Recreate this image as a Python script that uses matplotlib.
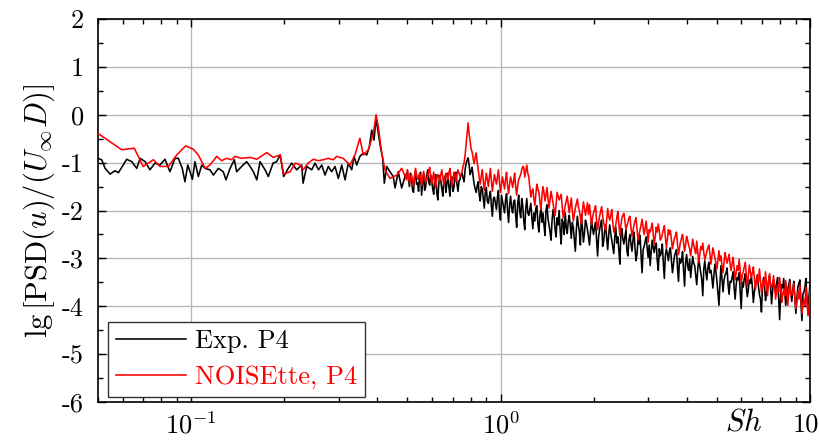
import numpy as np
import matplotlib
matplotlib.use('Agg')
import matplotlib.pyplot as plt
from matplotlib.ticker import FixedLocator, FixedFormatter, NullFormatter

plt.rcParams['mathtext.fontset'] = 'cm'
plt.rcParams['font.family'] = ['cmr10', 'DejaVu Serif']
plt.rcParams['axes.unicode_minus'] = False

# ---------------- data ----------------
# Experiment, low-frequency part
exp_low_sh = [0.0500, 0.0514, 0.0527, 0.0547, 0.0567, 0.0582, 0.0619, 0.0643, 0.0667, 0.0684,
              0.0710, 0.0736, 0.0764, 0.0793, 0.0823, 0.0854, 0.0887, 0.0909, 0.0936, 0.0955,
              0.0975, 0.0992, 0.1009, 0.1029, 0.1055, 0.1082, 0.1110, 0.1150, 0.1180, 0.1224,
              0.1270, 0.1296, 0.1336, 0.1379, 0.1403, 0.1456, 0.1512, 0.1550, 0.1589, 0.1630,
              0.1670, 0.1733, 0.1776, 0.1840, 0.1890, 0.1940, 0.1990, 0.2060, 0.2113, 0.2194,
              0.2277, 0.2300, 0.2363, 0.2453, 0.2514, 0.2580, 0.2642, 0.2708, 0.2775, 0.2846,
              0.2917, 0.2990, 0.3067, 0.3143, 0.3221, 0.3303, 0.3360, 0.3428, 0.3510, 0.3600,
              0.3694, 0.3766, 0.3833, 0.3900, 0.3960, 0.4026, 0.4098, 0.4160, 0.4210, 0.4285,
              0.4390, 0.4500, 0.4560, 0.4670, 0.4790, 0.4910]
exp_low_psd = [-0.91, -0.94, -1.12, -1.24, -1.17, -1.21, -0.93, -0.98, -1.12, -0.91,
               -0.98, -1.15, -1.01, -1.05, -0.93, -1.19, -0.91, -0.91, -1.12, -1.40,
               -1.05, -1.19, -1.35, -0.98, -1.29, -1.05, -1.12, -1.15, -1.26, -1.12,
               -1.19, -1.36, -1.12, -0.94, -1.19, -1.08, -0.98, -1.08, -1.19, -1.36,
               -0.98, -1.15, -1.29, -1.01, -0.98, -0.84, -1.29, -1.12, -1.01, -1.15,
               -1.05, -1.43, -1.08, -1.15, -1.01, -1.15, -1.05, -1.26, -1.08, -1.19,
               -1.08, -1.33, -1.05, -1.36, -1.01, -1.15, -0.87, -1.05, -0.87, -0.80,
               -0.84, -0.67, -0.32, -0.53, -0.07, -0.39, -0.70, -0.91, -1.43, -1.08,
               -1.19, -1.29, -1.53, -1.19, -1.53, -1.29]

# NOISEtte, low-frequency part
nois_low_sh = [0.0500, 0.0596, 0.0655, 0.0700, 0.0755, 0.0793, 0.0844, 0.0898, 0.0960, 0.1016,
               0.1055, 0.1110, 0.1150, 0.1210, 0.1255, 0.1300, 0.1350, 0.1386, 0.1456, 0.1550,
               0.1630, 0.1755, 0.1840, 0.1940, 0.1990, 0.2090, 0.2170, 0.2250, 0.2300, 0.2390,
               0.2480, 0.2580, 0.2670, 0.2775, 0.2880, 0.2950, 0.3100, 0.3260, 0.3385, 0.3510,
               0.3600, 0.3740, 0.3880, 0.3960, 0.4026, 0.4130, 0.4230, 0.4390, 0.4620, 0.4790,
               0.4970]
nois_low_psd = [-0.39, -0.73, -0.70, -1.08, -0.94, -1.08, -1.08, -0.84, -0.65, -0.72,
                -0.84, -1.12, -1.05, -0.87, -0.96, -0.91, -0.94, -0.87, -0.91, -0.89,
                -0.93, -0.79, -0.89, -0.84, -1.24, -1.19, -1.01, -1.05, -1.15, -1.01,
                -0.93, -0.96, -0.94, -0.91, -0.94, -0.87, -0.91, -1.05, -0.84, -0.49,
                -0.84, -0.73, -0.39, 0.00, -0.25, -0.80, -1.15, -1.33, -1.26, -1.12,
                -1.36]

# dense part of both spectra: grid A (Sh = 0.5 ... 10, 200 samples) and the
# samples lying between the grid-A samples (grid B, 199 samples)
sh_dense_a = np.geomspace(0.5, 10.0, 200)
sh_dense_b = np.sqrt(sh_dense_a[:-1] * sh_dense_a[1:])

exp_dense_a = [
    -1.20, -1.50, -1.33, -1.62, -1.18, -1.42, -1.28, -1.68, -1.25, -1.52,
    -1.15, -1.47, -1.38, -1.66, -1.25, -1.78, -1.27, -1.55, -1.36, -1.62,
    -1.22, -1.70, -1.30, -1.52, -1.20, -1.60, -1.35, -1.22, -1.40, -1.02,
    -0.90, -1.25, -1.10, -1.45, -1.62, -1.40, -1.80, -1.55, -1.95, -1.52,
    -1.85, -1.60, -2.12, -1.72, -1.98, -1.58, -2.20, -1.80, -2.05, -1.65,
    -2.25, -1.70, -2.05, -1.78, -2.35, -1.68, -2.15, -1.90, -2.40, -1.75,
    -2.10, -1.85, -2.38, -2.22, -1.90, -2.45, -1.95, -2.05, -2.52, -1.88,
    -2.30, -2.62, -1.98, -2.40, -2.15, -2.00, -2.70, -2.25, -2.05, -2.48,
    -2.10, -2.58, -2.35, -2.85, -2.12, -2.45, -2.08, -2.66, -2.20, -2.40,
    -2.72, -2.18, -2.50, -2.25, -2.95, -2.40, -2.20, -2.65, -2.30, -2.82,
    -2.30, -2.62, -2.90, -2.35, -2.55, -3.12, -2.38, -2.70, -2.42, -2.95,
    -2.50, -2.85, -2.45, -3.05, -2.62, -2.52, -3.30, -2.75, -2.55, -2.98,
    -3.15, -2.62, -2.88, -2.68, -3.25, -2.95, -2.70, -3.42, -2.80, -3.05,
    -2.78, -3.30, -2.95, -2.82, -3.48, -3.10, -2.86, -3.58, -2.92, -3.25,
    -3.40, -2.96, -3.15, -3.55, -3.00, -3.30, -3.78, -3.05, -3.45, -3.08,
    -3.25, -3.62, -3.12, -3.48, -3.98, -3.15, -3.70, -3.35, -3.20, -3.75,
    -3.50, -3.28, -3.85, -3.40, -3.30, -4.05, -3.60, -3.32, -3.80, -3.45,
    -3.35, -3.92, -3.55, -3.34, -3.75, -4.12, -3.40, -3.88, -3.62, -3.36,
    -3.95, -3.45, -3.70, -3.40, -4.28, -3.55, -3.42, -3.98, -3.65, -3.44,
    -3.90, -3.48, -4.15, -3.60, -3.45, -4.30, -3.70, -3.42, -4.05, -3.55]
exp_dense_b = [
    -1.35, -1.22, -1.55, -1.30, -1.45, -1.60, -1.20, -1.40, -1.58, -1.30,
    -1.40, -1.25, -1.55, -1.32, -1.62, -1.45, -1.38, -1.70, -1.28, -1.45,
    -1.50, -1.35, -1.60, -1.28, -1.45, -1.38, -1.25, -1.32, -1.15, -0.95,
    -1.05, -1.18, -1.30, -1.55, -1.48, -1.68, -1.50, -1.75, -1.62, -1.80,
    -1.70, -1.90, -1.75, -1.85, -1.72, -2.02, -1.68, -1.92, -1.78, -2.00,
    -1.88, -1.95, -1.82, -2.10, -1.85, -2.02, -1.75, -2.22, -1.95, -2.05,
    -1.98, -2.15, -2.05, -1.95, -2.28, -2.10, -2.25, -2.30, -2.00, -2.18,
    -2.45, -2.20, -2.12, -2.55, -2.30, -2.42, -2.18, -2.50, -2.35, -2.22,
    -2.32, -2.25, -2.60, -2.40, -2.30, -2.72, -2.35, -2.48, -2.28, -2.55,
    -2.45, -2.38, -2.35, -2.62, -2.55, -2.28, -2.75, -2.42, -2.58, -2.50,
    -2.48, -2.75, -2.55, -2.68, -2.82, -2.50, -2.60, -2.55, -2.85, -2.62,
    -2.70, -2.62, -2.78, -2.90, -2.70, -2.95, -2.82, -2.65, -2.78, -2.72,
    -2.85, -2.78, -2.72, -3.05, -2.80, -2.88, -3.10, -2.95, -2.90, -2.85,
    -3.05, -3.12, -2.88, -3.20, -3.00, -3.05, -3.25, -3.08, -3.15, -3.02,
    -3.18, -3.10, -3.35, -3.25, -3.15, -3.45, -3.22, -3.28, -3.20, -3.30,
    -3.40, -3.35, -3.28, -3.72, -3.52, -3.42, -3.45, -3.30, -3.55, -3.48,
    -3.40, -3.62, -3.55, -3.45, -3.70, -3.50, -3.42, -3.58, -3.65, -3.52,
    -3.60, -3.70, -3.45, -3.58, -3.85, -3.62, -3.55, -3.72, -3.48, -3.60,
    -3.68, -3.58, -3.52, -3.85, -3.75, -3.62, -3.70, -3.80, -3.55, -3.72,
    -3.65, -3.80, -3.85, -3.52, -3.90, -3.75, -3.60, -3.85, -3.78]

nois_dense_a = [
    -1.15, -1.42, -1.25, -1.50, -1.12, -1.35, -1.22, -1.48, -1.18, -1.40,
    -1.28, -1.10, -1.45, -1.20, -1.52, -1.25, -1.38, -1.15, -1.46, -1.22,
    -1.35, -1.12, -1.48, -1.20, -1.40, -1.15, -1.30, -1.18, -1.00, -0.62,
    -0.17, -0.55, -0.78, -1.02, -0.80, -1.15, -1.45, -1.15, -1.58, -1.22,
    -1.50, -1.12, -1.60, -1.25, -1.45, -1.15, -1.62, -1.30, -1.55, -1.20,
    -1.65, -1.30, -1.52, -1.22, -1.68, -1.35, -1.25, -1.08, -1.30, -1.05,
    -1.30, -1.72, -1.55, -1.90, -1.45, -1.62, -1.98, -1.50, -1.80, -1.52,
    -1.95, -1.60, -1.85, -2.10, -1.62, -1.78, -1.66, -2.15, -1.90, -1.70,
    -2.05, -1.74, -2.22, -1.95, -1.76, -2.00, -2.28, -1.82, -2.10, -1.84,
    -1.88, -2.30, -2.05, -1.90, -2.40, -2.12, -1.92, -2.25, -2.42, -1.96,
    -2.20, -1.98, -2.45, -2.30, -2.02, -2.52, -2.15, -2.06, -2.40, -2.25,
    -2.12, -2.55, -2.30, -2.15, -2.62, -2.40, -2.18, -2.50, -2.22, -2.66,
    -2.45, -2.26, -2.70, -2.35, -2.28, -2.62, -2.50, -2.32, -2.78, -2.40,
    -2.42, -2.80, -2.58, -2.45, -2.92, -2.65, -2.50, -2.85, -2.54, -2.72,
    -2.95, -2.60, -2.82, -2.64, -3.08, -2.75, -2.68, -3.02, -2.85, -2.72,
    -3.12, -2.78, -2.98, -3.22, -2.84, -2.95, -3.30, -2.88, -3.10, -2.92,
    -3.25, -2.98, -3.45, -3.15, -3.02, -3.52, -3.28, -3.08, -3.58, -3.14,
    -3.40, -3.18, -3.65, -3.35, -3.22, -3.72, -3.45, -3.28, -3.78, -3.32,
    -3.60, -3.36, -3.85, -3.55, -3.40, -3.92, -3.65, -3.46, -3.98, -3.50,
    -3.75, -3.52, -4.05, -3.70, -3.56, -4.15, -3.85, -3.60, -4.20, -3.68]
nois_dense_b = [
    -1.30, -1.35, -1.38, -1.28, -1.25, -1.30, -1.36, -1.32, -1.28, -1.35,
    -1.18, -1.30, -1.32, -1.38, -1.35, -1.30, -1.25, -1.32, -1.34, -1.28,
    -1.22, -1.32, -1.35, -1.28, -1.25, -1.22, -1.25, -1.08, -0.85, -0.38,
    -0.40, -0.72, -0.92, -0.88, -1.00, -1.32, -1.28, -1.38, -1.40, -1.35,
    -1.30, -1.38, -1.42, -1.35, -1.30, -1.40, -1.45, -1.42, -1.35, -1.48,
    -1.45, -1.40, -1.38, -1.50, -1.48, -1.30, -1.15, -1.10, -1.18, -1.22,
    -1.52, -1.60, -1.75, -1.65, -1.55, -1.82, -1.70, -1.62, -1.68, -1.75,
    -1.78, -1.72, -2.00, -1.85, -1.70, -1.72, -1.92, -2.02, -1.80, -1.88,
    -1.90, -2.00, -2.08, -1.85, -1.92, -2.15, -2.02, -1.95, -1.98, -2.08,
    -2.10, -2.15, -1.98, -2.20, -2.25, -2.02, -2.10, -2.35, -2.18, -2.12,
    -2.10, -2.25, -2.38, -2.15, -2.28, -2.32, -2.10, -2.22, -2.32, -2.15,
    -2.35, -2.42, -2.22, -2.40, -2.50, -2.30, -2.35, -2.38, -2.45, -2.40,
    -2.35, -2.50, -2.55, -2.45, -2.42, -2.58, -2.40, -2.55, -2.60, -2.50,
    -2.62, -2.68, -2.52, -2.70, -2.78, -2.58, -2.68, -2.72, -2.62, -2.80,
    -2.78, -2.72, -2.90, -2.85, -2.92, -2.82, -2.88, -2.95, -2.78, -2.90,
    -2.95, -2.88, -3.10, -3.02, -3.05, -3.15, -3.08, -3.00, -3.02, -3.12,
    -3.10, -3.22, -3.30, -3.25, -3.28, -3.35, -3.18, -3.32, -3.38, -3.28,
    -3.30, -3.42, -3.48, -3.50, -3.45, -3.55, -3.58, -3.52, -3.50, -3.55,
    -3.52, -3.60, -3.68, -3.70, -3.62, -3.75, -3.78, -3.70, -3.72, -3.78,
    -3.70, -3.82, -3.90, -3.85, -3.88, -3.95, -3.98, -3.92, -4.02]

series_labels = ['Exp. P4', 'NOISEtte, P4']
x_major = [0.1, 1.0, 10.0]
x_major_labels = [r'$10^{-1}$', r'$10^{0}$', '']
x_end_label = '10'
y_major = [-6, -5, -4, -3, -2, -1, 0, 1, 2]
y_major_labels = ['-6', '-5', '-4', '-3', '-2', '-1', '0', '1', '2']


def merge(a_vals, b_vals):
    sh = np.empty(len(sh_dense_a) + len(sh_dense_b))
    sh[0::2] = sh_dense_a
    sh[1::2] = sh_dense_b
    v = np.empty_like(sh)
    v[0::2] = a_vals
    v[1::2] = b_vals
    return sh, v


exp_d_sh, exp_d_psd = merge(exp_dense_a, exp_dense_b)
nois_d_sh, nois_d_psd = merge(nois_dense_a, nois_dense_b)
exp_sh = np.concatenate([exp_low_sh, exp_d_sh])
exp_psd = np.concatenate([exp_low_psd, exp_d_psd])
nois_sh = np.concatenate([nois_low_sh, nois_d_sh])
nois_psd = np.concatenate([nois_low_psd, nois_d_psd])

# ---------------- figure ----------------
fig = plt.figure(figsize=(8.2, 4.41), dpi=100)
ax = fig.add_axes([98 / 820, 1 - 402 / 441, 712 / 820, 383 / 441])

ax.plot(exp_sh, exp_psd, color='black', lw=1.15, label=series_labels[0], zorder=3)
ax.plot(nois_sh, nois_psd, color='#ff0000', lw=1.15, label=series_labels[1], zorder=4)

ax.set_xscale('log')
ax.set_xlim(0.05, 10)
ax.set_ylim(-6, 2)

ax.xaxis.set_major_locator(FixedLocator(x_major))
ax.xaxis.set_major_formatter(FixedFormatter(x_major_labels))
minors = [m * d for d in (0.01, 0.1, 1.0) for m in range(2, 10)]
ax.xaxis.set_minor_locator(FixedLocator([v for v in minors if 0.05 <= v <= 10]))
ax.xaxis.set_minor_formatter(NullFormatter())
ax.yaxis.set_major_locator(FixedLocator(y_major))
ax.yaxis.set_major_formatter(FixedFormatter(y_major_labels))
ax.yaxis.set_minor_locator(FixedLocator([v + 0.5 for v in y_major[:-1]]))

ax.grid(which='major', color='#b8b8b8', lw=1.0, zorder=0)
ax.set_axisbelow(True)
ax.tick_params(which='both', direction='in', top=True, right=True, width=1.0, color='black')
ax.tick_params(which='major', length=6, labelsize=19)
ax.tick_params(axis='x', which='major', pad=7)
ax.tick_params(axis='y', which='major', pad=10)
ax.tick_params(which='minor', length=3.5)
for s in ax.spines.values():
    s.set_linewidth(1.2)

ax.set_ylabel(r'$\mathrm{lg}\,[\mathrm{PSD}(u)/(U_\infty D)]$', fontsize=22, labelpad=4)
fig.text(744 / 820, 1 - 423 / 441, r'$Sh$', fontsize=22, ha='center', va='center')
fig.text(819 / 820, 1 - 425 / 441, x_end_label, fontsize=19, ha='right', va='center')

leg = ax.legend(loc='lower left', bbox_to_anchor=(0.014, 0.013), borderaxespad=0,
                fontsize=19, handlelength=2.65, handletextpad=0.35, labelspacing=0.45,
                borderpad=0.3, fancybox=False, framealpha=1, edgecolor='#333333',
                labelcolor='linecolor')
leg.get_frame().set_linewidth(1.0)

fig.savefig('out.png', dpi=100)
